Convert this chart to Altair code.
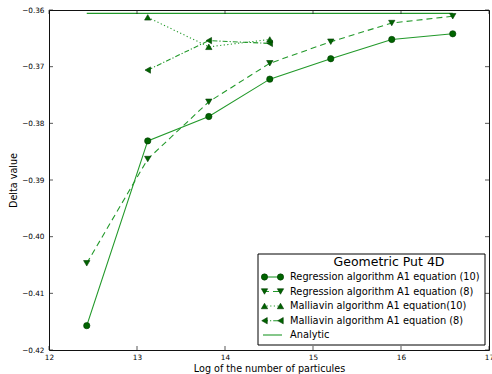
import altair as alt
import pandas as pd

# ---------------- data ----------------
log_n = [12.429, 13.122, 13.816, 14.509, 15.202, 15.895, 16.588]
reg10 = [-0.4157, -0.3831, -0.3788, -0.3722, -0.3686, -0.3652, -0.3642]
reg8 = [-0.4047, -0.3863, -0.3762, -0.3694, -0.3656, -0.3623, -0.3611]
mal_x = [13.122, 13.816, 14.509]
mal10 = [-0.3613, -0.3665, -0.3652]
mal8 = [-0.3706, -0.3654, -0.3659]
analytic_x = [12.429, 16.588]
analytic = [-0.3606, -0.3606]

x_ticks = [12, 13, 14, 15, 16, 17]
y_ticks = [-0.42, -0.41, -0.40, -0.39, -0.38, -0.37, -0.36]

legend_title = "Geometric Put 4D"
legend_labels = [
    "Regression algorithm A1 equation (10)",
    "Regression algorithm A1 equation (8)",
    "Malliavin algorithm A1 equation(10)",
    "Malliavin algorithm A1 equation (8)",
    "Analytic",
]

# ---------------- style ----------------
W, H = 440, 340
FONT = "DejaVu Sans"
LINE = "#22992a"
MK = "#006400"
MKE = "#003a00"
FRAME = "#111111"

xscale = alt.Scale(domain=[12, 17], nice=False, zero=False)
yscale = alt.Scale(domain=[-0.42, -0.36], nice=False, zero=False)

xaxis = alt.Axis(
    title="Log of the number of particules", values=x_ticks, format="d",
    grid=False, ticks=False, domain=False, labelFlush=False, labelOverlap=False,
    labelFont=FONT, labelFontSize=7.3, labelColor="black", labelPadding=3,
    titleFont=FONT, titleFontSize=9.6, titleFontWeight="normal", titleColor="black",
    titleY=18, titleBaseline="middle",
)
yaxis = alt.Axis(
    title="Delta value", values=y_ticks, format=".2f",
    grid=False, ticks=False, domain=False, labelFlush=False, labelOverlap=False,
    labelFont=FONT, labelFontSize=7.3, labelColor="black", labelPadding=5,
    titleFont=FONT, titleFontSize=9.6, titleFontWeight="normal", titleColor="black",
    titleX=-35.5, titleY=170, titleBaseline="middle",
)

layers = []


def series(xs, ys, dash, shape, with_points=True):
    df = pd.DataFrame({"x": xs, "y": ys})
    base = alt.Chart(df).encode(
        x=alt.X("x:Q", scale=xscale, axis=xaxis),
        y=alt.Y("y:Q", scale=yscale, axis=yaxis),
    )
    kw = dict(color=LINE, strokeWidth=1.1)
    if dash:
        kw["strokeDash"] = dash
    out = [base.mark_line(**kw)]
    if with_points:
        out.append(base.mark_point(shape=shape, filled=True, fill=MK, stroke=MKE,
                                   strokeWidth=0.6, size=40, opacity=1))
    return out


layers += series(analytic_x, analytic, None, None, with_points=False)
layers += series(mal_x, mal8, [5, 2, 1.2, 2], "triangle-left")
layers += series(mal_x, mal10, [1.2, 2.4], "triangle-up")
layers += series(log_n, reg8, [6, 4], "triangle-down")
layers += series(log_n, reg10, None, "circle")

# inward ticks on all four sides
xt = pd.DataFrame({"v": x_ticks})
yt = pd.DataFrame({"v": y_ticks})
for yv in [H - 2, 2]:
    layers.append(alt.Chart(xt).mark_tick(color=FRAME, thickness=1, size=4).encode(
        x=alt.X("v:Q", scale=xscale, axis=xaxis), y=alt.value(yv)))
for xv in [2, W - 2]:
    layers.append(alt.Chart(yt).mark_tick(color=FRAME, thickness=1, size=4).encode(
        y=alt.Y("v:Q", scale=yscale, axis=yaxis), x=alt.value(xv)))

# ---------------- legend (drawn by hand) ----------------
one = pd.DataFrame({"a": [0]})
LX0, LX1, LY0, LY1 = 209, 436, 244, 335
layers.append(alt.Chart(one).mark_rect(fill="white", stroke="black", strokeWidth=1).encode(
    x=alt.value(LX0), x2=alt.value(LX1), y=alt.value(LY0), y2=alt.value(LY1)))
layers.append(alt.Chart(one).mark_text(text=legend_title, font=FONT, fontSize=12.5,
                                        align="center", baseline="middle", color="black").encode(
    x=alt.value(340), y=alt.value(252)))

row_y = [267, 281.5, 296, 310.7, 325]
dashes = [None, [6, 4], [1.2, 2.4], [5, 2, 1.2, 2], None]
shapes = ["circle", "triangle-down", "triangle-up", "triangle-left", None]
for lab, ry, dsh, shp in zip(legend_labels, row_y, dashes, shapes):
    kw = dict(color=LINE, strokeWidth=1.1)
    if dsh:
        kw["strokeDash"] = dsh
    layers.append(alt.Chart(one).mark_rule(**kw).encode(
        x=alt.value(214), x2=alt.value(233), y=alt.value(ry)))
    if shp:
        for mx in [215.5, 231.5]:
            layers.append(alt.Chart(one).mark_point(shape=shp, filled=True, fill=MK, stroke=MKE,
                                                     strokeWidth=0.6, size=40, opacity=1).encode(
                x=alt.value(mx), y=alt.value(ry)))
    layers.append(alt.Chart(one).mark_text(text=lab, font=FONT, fontSize=9.8, align="left",
                                            baseline="middle", color="black").encode(
        x=alt.value(241), y=alt.value(ry)))

chart = alt.layer(*layers).properties(
    width=W, height=H,
    autosize=alt.AutoSizeParams(type="none"),
    padding={"left": 49, "top": 10, "right": 3, "bottom": 24},
    background="white",
).configure_view(stroke=FRAME, strokeWidth=1)

chart.save("out.html", embed_options={"renderer": "svg", "actions": False})
